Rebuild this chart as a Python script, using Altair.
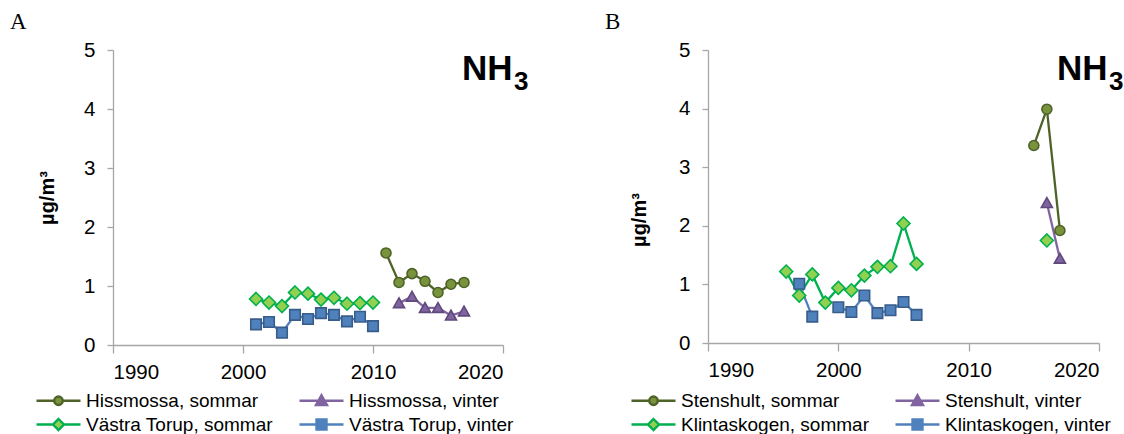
import altair as alt
import pandas as pd

# ---- Panel A: Hissmossa and Västra Torup ----
A_NAMES = ["Hissmossa, sommar", "Hissmossa, vinter",
           "Västra Torup, sommar", "Västra Torup, vinter"]
HS_YEARS = [2011, 2012, 2013, 2014, 2015, 2016, 2017]
HS_VALUES = [1.56, 1.06, 1.21, 1.08, 0.89, 1.03, 1.06]
HV_YEARS = [2012, 2013, 2014, 2015, 2016, 2017]
HV_VALUES = [0.71, 0.82, 0.63, 0.63, 0.50, 0.57]
VTS_YEARS = [2001, 2002, 2003, 2004, 2005, 2006, 2007, 2008, 2009, 2010]
VTS_VALUES = [0.78, 0.72, 0.66, 0.89, 0.87, 0.77, 0.80, 0.70, 0.71, 0.72]
VTV_YEARS = [2001, 2002, 2003, 2004, 2005, 2006, 2007, 2008, 2009, 2010]
VTV_VALUES = [0.35, 0.39, 0.21, 0.51, 0.44, 0.54, 0.51, 0.40, 0.48, 0.32]

# ---- Panel B: Stenshult and Klintaskogen ----
B_NAMES = ["Stenshult, sommar", "Stenshult, vinter",
           "Klintaskogen, sommar", "Klintaskogen, vinter"]
SS_YEARS = [2015, 2016, 2017]
SS_VALUES = [3.37, 3.99, 1.92]
SV_YEARS = [2016, 2017]
SV_VALUES = [2.39, 1.44]
KS_YEARS = [1996, 1997, 1998, 1999, 2000, 2001, 2002, 2003, 2004, 2005, 2006, 2016]
KS_VALUES = [1.22, 0.81, 1.17, 0.69, 0.94, 0.90, 1.15, 1.30, 1.31, 2.04, 1.35, 1.75]
KV_YEARS = [1997, 1998, 2000, 2001, 2002, 2003, 2004, 2005, 2006]
KV_VALUES = [1.01, 0.45, 0.61, 0.53, 0.81, 0.51, 0.56, 0.70, 0.48]

X_TICKS = [1990, 2000, 2010, 2020]
Y_TICKS = [0, 1, 2, 3, 4, 5]

# ---- styling ----
LINE_COLORS = ["#4F6228", "#8064A2", "#00B050", "#4F81BD"]
FILL_COLORS = ["#77933C", "#8064A2", "#92D050", "#4F81BD"]
EDGE_COLORS = ["#4F6228", "#5F497A", "#00B050", "#385D8A"]
AXIS_GREY = "#A6A6A6"
SANS = "Liberation Sans"
SERIF = "Liberation Serif"

# marker outlines (unit box scaled by sqrt(size)/2)
MARKERS = [
    "M-1,0A1,1,0,1,1,1,0A1,1,0,1,1,-1,0Z",
    "M0,-1.05L1.1,0.9L-1.1,0.9Z",
    "M0,-1.3L1.3,0L0,1.3L-1.3,0Z",
    "M-1.05,-1.05H1.05V1.05H-1.05Z",
]
# legend keys: a short line with the marker sitting on it
KEYS = [
    "M-4.4,0H-0.85M0.85,0H4.4M-0.85,0A0.85,0.85,0,1,1,0.85,0A0.85,0.85,0,1,1,-0.85,0Z",
    "M-4.4,0H-0.62M0.62,0H4.4M0,-1.1L1.1,0.85L-1.1,0.85Z",
    "M-4.4,0H-1.1M1.1,0H4.4M0,-1.1L1.1,0L0,1.1L-1.1,0Z",
    "M-4.4,0H-1M1,0H4.4M-1,-1H1V1H-1Z",
]
# legend columns fill top-to-bottom, so list entries column by column
LEGEND_ORDER = [0, 2, 1, 3]


def frame(names, years_list, values_list):
    rows = []
    for name, years, values in zip(names, years_list, values_list):
        run, prev = 0, None
        for yr, v in zip(years, values):
            if prev is not None and yr - prev > 1:
                run += 1
            rows.append({"series": name, "year": yr, "value": v,
                         "run": f"{name} {run}"})
            prev = yr
    return pd.DataFrame(rows)


def pick(seq):
    return [seq[i] for i in LEGEND_ORDER]


def panel(letter, names, df, width, height, title_x, title_y):
    x = alt.X("year:Q",
              scale=alt.Scale(domain=[1990, 2020], nice=False, zero=False),
              axis=alt.Axis(values=X_TICKS, format="d", title=None,
                            tickSize=8, labelPadding=9, grid=False))
    y = alt.Y("value:Q",
              scale=alt.Scale(domain=[0, 5], nice=False),
              axis=alt.Axis(values=Y_TICKS, title="µg/m³", grid=False,
                            tickSize=6, labelPadding=12,
                            titleFontSize=20, titleAngle=270,
                            titleX=title_x, titleY=title_y,
                            titleAlign="center", titleBaseline="alphabetic"))

    lines = alt.Chart(df).mark_line(strokeWidth=2.3).encode(
        x=x, y=y,
        stroke=alt.Stroke("series:N", scale=alt.Scale(domain=names, range=LINE_COLORS),
                          legend=None),
        detail="run:N",
    )
    markers = alt.Chart(df).mark_point(filled=True, opacity=1, size=100,
                                       strokeWidth=1.6).encode(
        x=x, y=y,
        fill=alt.Fill("series:N", scale=alt.Scale(domain=names, range=FILL_COLORS),
                      legend=None),
        stroke=alt.Stroke("series:N", scale=alt.Scale(domain=names, range=EDGE_COLORS),
                          legend=None),
        shape=alt.Shape("series:N", scale=alt.Scale(domain=names, range=MARKERS),
                        legend=None),
    )

    legend = alt.Legend(title=None, orient="none", legendX=-64, legendY=341,
                        columns=2, columnPadding=21, rowPadding=3, padding=0,
                        labelFont=SANS, labelFontSize=19, labelColor="#000000",
                        labelLimit=400, labelOffset=18, symbolSize=100,
                        symbolStrokeWidth=2.4, symbolOpacity=1)
    key_names = pick(names)
    key = alt.Chart(df).mark_point(filled=True, opacity=0, size=100).encode(
        x=x, y=y,
        fill=alt.Fill("series:N", scale=alt.Scale(domain=key_names, range=pick(FILL_COLORS)),
                      legend=legend),
        stroke=alt.Stroke("series:N", scale=alt.Scale(domain=key_names, range=pick(LINE_COLORS)),
                          legend=legend),
        shape=alt.Shape("series:N", scale=alt.Scale(domain=key_names, range=pick(KEYS)),
                        legend=legend),
    )

    tag = alt.Chart(pd.DataFrame({"t": [letter]})).mark_text(
        align="left", baseline="alphabetic", font=SERIF, fontSize=23, color="#000000"
    ).encode(x=alt.value(-103), y=alt.value(-21.5), text="t:N")
    formula = alt.Chart(pd.DataFrame({"t": ["NH"]})).mark_text(
        align="left", baseline="alphabetic", font=SANS, fontSize=35,
        fontWeight="bold", color="#000000"
    ).encode(x=alt.value(349), y=alt.value(30), text="t:N")
    sub = alt.Chart(pd.DataFrame({"t": ["3"]})).mark_text(
        align="left", baseline="alphabetic", font=SANS, fontSize=26,
        fontWeight="bold", color="#000000"
    ).encode(x=alt.value(401), y=alt.value(39.5), text="t:N")

    return alt.layer(lines, markers, key, tag, formula, sub).resolve_scale(
        fill="independent", stroke="independent", shape="independent"
    ).properties(width=width, height=height)


df_a = frame(A_NAMES, [HS_YEARS, HV_YEARS, VTS_YEARS, VTV_YEARS],
             [HS_VALUES, HV_VALUES, VTS_VALUES, VTV_VALUES])
df_b = frame(B_NAMES, [SS_YEARS, SV_YEARS, KS_YEARS, KV_YEARS],
             [SS_VALUES, SV_VALUES, KS_VALUES, KV_VALUES])

chart_a = panel("A", A_NAMES, df_a, 390, 295, -60, 147.5)
chart_b = panel("B", B_NAMES, df_b, 391, 293, -63, 169.5)

chart = alt.hconcat(chart_a, chart_b, spacing=205, bounds="flush").resolve_scale(
    x="independent", y="independent", fill="independent",
    stroke="independent", shape="independent"
).configure(
    padding={"left": 10, "top": 10, "right": 0, "bottom": 0},
    background="#ffffff",
).configure_view(stroke=None).configure_axis(
    domainColor=AXIS_GREY, domainWidth=1.3, tickColor=AXIS_GREY, tickWidth=1.3,
    labelFont=SANS, labelFontSize=20.5, labelColor="#000000",
    titleFont=SANS, titleFontWeight="bold", titleColor="#000000",
)

chart.save("out.html", embed_options={"renderer": "svg", "actions": False})
